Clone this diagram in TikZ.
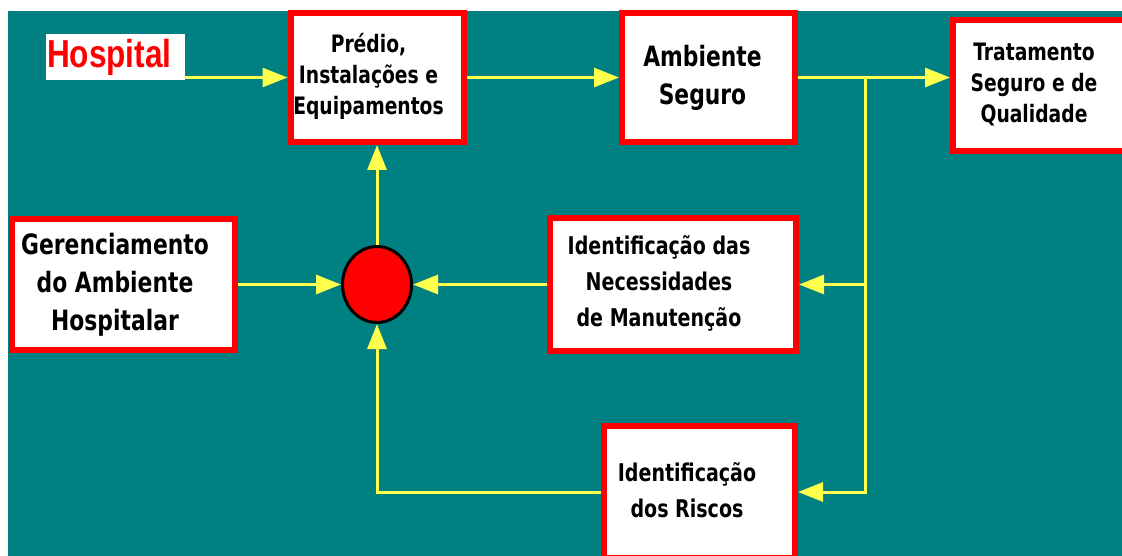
\documentclass[tikz,border=0pt]{standalone}
\usepackage{fontspec}
\usetikzlibrary{arrows.meta,shapes.geometric}
\newfontfamily\boxfont{DejaVu Sans}[FakeStretch=0.78]
\newfontfamily\hospfont{Liberation Sans}[FakeStretch=0.81]
\definecolor{bgteal}{RGB}{0,128,128}
\definecolor{linkyellow}{RGB}{255,255,77}
\tikzset{
    box/.style = {draw = red, line width = 6pt, fill = white, inner sep = 0pt},
    txt/.style = {align = center, inner sep = 0pt},
    link/.style = {draw = linkyellow, line width = 3pt, -{Triangle[length = 25pt, width = 19pt]}},
}
\begin{document}
\begin{tikzpicture}[x = 1pt, y = -1pt]
            \useasboundingbox (0,0) rectangle (1122,556);
            \clip (0,0) rectangle (1122,556);
            \fill[bgteal] (8,11) rectangle (1122,556);
            % boxes
            \node[box, minimum width = 173pt, minimum height = 129pt] (predio) at (377,77.5) {};
            \node[box, minimum width = 173pt, minimum height = 129pt] (ambiente) at (708.5,77.5) {};
            \node[box, minimum width = 173pt, minimum height = 131pt] (tratamento) at (1039.5,85.5) {};
            \node[box, minimum width = 223pt, minimum height = 131pt] (gerenc) at (123.5,284.5) {};
            \node[box, minimum width = 246pt, minimum height = 133pt] (necess) at (673,284.5) {};
            \node[box, minimum width = 191pt, minimum height = 132pt] (riscos) at (699.5,492) {};
            \node[ellipse, draw = black, fill = red, line width = 3pt, inner sep = 0pt,
                minimum width = 69pt, minimum height = 76pt] (soma) at (377,284.5) {};
            \node[fill = white, inner sep = 1pt, text width = 137pt, minimum height = 46pt, align = left,
                text = red, font = \hospfont\bfseries\fontsize{39}{46}\selectfont] (hospital) at (115.5,57) {Hospital};
            % texts
            \begin{scope}[every node/.append style = {font = \boxfont\bfseries\fontsize{24}{31}\selectfont}]
                \node[txt] (predio-t) at (368.5,76) {Prédio,\\Instalações e\\Equipamentos};
                \node[txt] (tratamento-t) at (1034,85) {Tratamento\\Seguro e de\\Qualidade};
            \end{scope}
            \begin{scope}[every node/.append style = {font = \boxfont\bfseries\fontsize{28}{38}\selectfont}]
                \node[txt] (ambiente-t) at (702.5,77.5) {Ambiente\\Seguro};
                \node[txt] (gerenc-t) at (115,284.5) {Gerenciamento\\do Ambiente\\Hospitalar};
            \end{scope}
            \begin{scope}[every node/.append style = {font = \boxfont\bfseries\fontsize{24.4}{36}\selectfont}]
                \node[txt] (necess-t) at (659,283) {Identificação das\\Necessidades\\de Manutenção};
                \node[txt] (riscos-t) at (687,490) {Identificação\\dos Riscos};
            \end{scope}
            % connectors
            \coordinate (j1) at (865,77.5);
            \draw[link] (hospital.east |- predio.west) -- (predio.west);
            \draw[link] (predio.east) -- (ambiente.west);
            \draw[link] (ambiente.east) -- (ambiente.east -| tratamento.west);
            \draw[link] (j1) |- (riscos.east);
            \draw[link] (j1 |- necess.east) -- (necess.east);
            \draw[link] (necess.west) -- (soma.east);
            \draw[link] (gerenc.east) -- (soma.west);
            \draw[link] (soma.north) -- (predio.south);
            \draw[link] (riscos.west) -| (soma.south);
        \end{tikzpicture}
\end{document}
